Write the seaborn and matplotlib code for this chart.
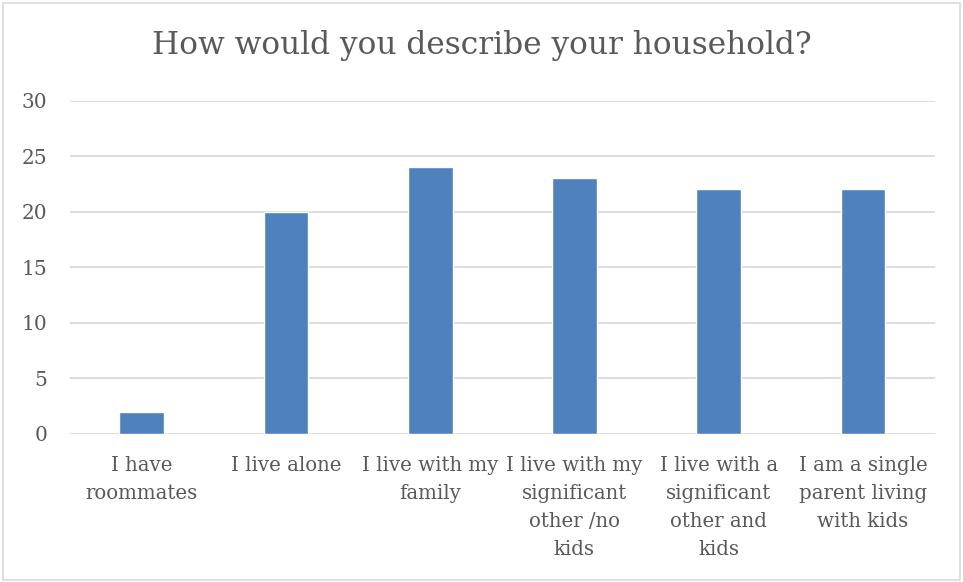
import matplotlib
matplotlib.use("Agg")
import matplotlib.pyplot as plt
import seaborn as sns
import pandas as pd
from matplotlib.patches import Rectangle

categories = [
    "I have\nroommates",
    "I live alone",
    "I live with my\nfamily",
    "I live with my\nsignificant\nother /no\nkids",
    "I live with a\nsignificant\nother and\nkids",
    "I am a single\nparent living\nwith kids",
]
counts = [2, 20, 24, 23, 22, 22]
title = "How would you describe your household?"
yticks = [0, 5, 10, 15, 20, 25, 30]

sns.set_theme(style="white")
plt.rcParams["font.family"] = ["DejaVu Serif"]

df = pd.DataFrame({"category": categories, "count": counts})

fig = plt.figure(figsize=(9.63, 5.82), dpi=100)
ax = fig.add_axes([0.0722, 0.2543, 0.8988, 0.5730])
sns.barplot(data=df, x="category", y="count", color="#4F81BD", width=0.31,
            saturation=1, ax=ax, zorder=3)

ax.set_ylim(0, 30)
ax.set_yticks(yticks)
ax.set_xlim(-0.5, len(categories) - 0.5)
ax.yaxis.grid(True, color="#D9D9D9", linewidth=1.3, zorder=0)
ax.set_axisbelow(True)
for s in ax.spines.values():
    s.set_visible(False)
ax.set_xlabel("")
ax.set_ylabel("")
ax.tick_params(axis="y", length=0, pad=16, labelsize=14.5, labelcolor="#595959")
ax.tick_params(axis="x", length=0, pad=16, labelsize=14.2, labelcolor="#595959")
for lbl in ax.get_xticklabels():
    lbl.set_linespacing(1.6)
    lbl.set_ha("center")

fig.text(0.5, 0.921, title, ha="center", va="center", fontsize=22.5, color="#595959")
fig.patches.append(Rectangle((0.003, 0.004), 0.994, 0.99, transform=fig.transFigure,
                             fill=False, edgecolor="#D9D9D9", linewidth=1.2))

fig.savefig("out.png", dpi=100)
